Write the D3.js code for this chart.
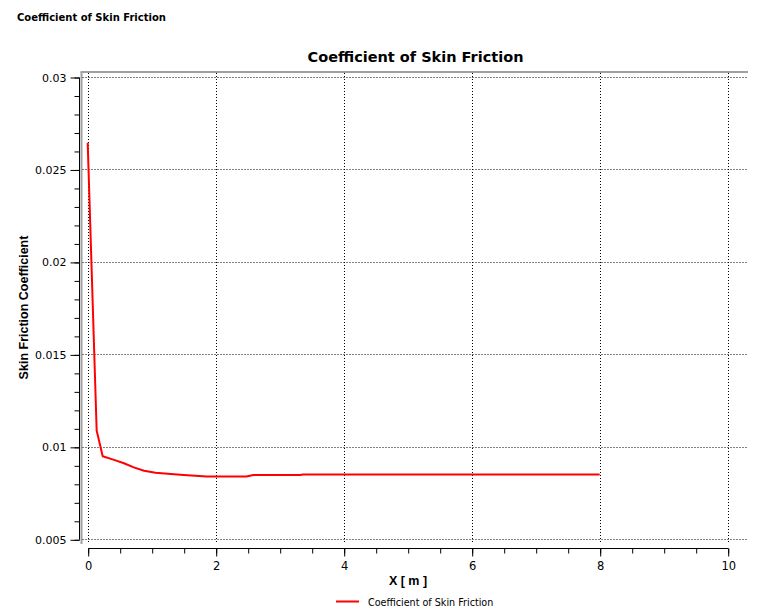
<!DOCTYPE html>
<html>
<head>
<meta charset="utf-8">
<script src="https://cdn.jsdelivr.net/npm/d3@7"></script>
<style>
  html, body { margin: 0; padding: 0; background: #fff; }
  svg { display: block; }
</style>
</head>
<body>
<svg id="chart" width="760" height="616"></svg>
<script>
// ---- data ----
const xValues = [0, 0.14, 0.234, 0.40, 0.567, 0.72, 0.88, 1.06, 1.30, 1.50, 1.86, 2.48, 2.59, 3.33, 3.36, 8];
const cfValues = [0.02644, 0.01088, 0.00949, 0.00931, 0.00911, 0.00889, 0.00871, 0.00860, 0.00853, 0.00848, 0.00840, 0.00840, 0.00848, 0.00848, 0.00851, 0.00851];
const xTicks = [0, 2, 4, 6, 8, 10];
const yTicks = [0.005, 0.01, 0.015, 0.02, 0.025, 0.03];
const yTickLabels = ["0.005", "0.01", "0.015", "0.02", "0.025", "0.03"];
const seriesName = "Coefficient of Skin Friction";
const chartTitle = "Coefficient of Skin Friction";
const xLabel = "X [ m ]";
const yLabel = "Skin Friction Coefficient";

const svg = d3.select("#chart");
const font = "'DejaVu Sans', Verdana, sans-serif";

const x = d3.scaleLinear().domain([0, 10]).range([87.7, 727.7]);
const y = d3.scaleLinear().domain([0.005, 0.03]).range([539.3, 77]);

// header
svg.append("text").attr("x", 17).attr("y", 21)
  .attr("font-family", font).attr("font-size", 10).attr("font-weight", "bold")
  .attr("fill", "#000").text(chartTitle);

// title
svg.append("text").attr("x", 415.5).attr("y", 62).attr("text-anchor", "middle")
  .attr("font-family", font).attr("font-size", 14.5).attr("font-weight", "bold")
  .attr("fill", "#000").text(chartTitle);

// plot frame (gray top & left)
const plotLeft = 81.5, plotTop = 72, plotRight = 748, plotBottom = 544;
svg.append("line").attr("x1", plotLeft - 1).attr("x2", plotRight).attr("y1", plotTop).attr("y2", plotTop)
  .attr("stroke", "#a0a0a0").attr("stroke-width", 2);
svg.append("line").attr("x1", plotLeft).attr("x2", plotLeft).attr("y1", plotTop).attr("y2", plotBottom)
  .attr("stroke", "#a0a0a0").attr("stroke-width", 2);

// grid
const grid = svg.append("g").attr("stroke", "#000").attr("stroke-width", 1).attr("stroke-dasharray", "1,2");
grid.selectAll("line.v").data(xTicks).join("line").attr("class", "v")
  .attr("x1", d => Math.round(x(d)) + 0.5).attr("x2", d => Math.round(x(d)) + 0.5)
  .attr("y1", plotTop + 1).attr("y2", plotBottom - 1);
grid.selectAll("line.h").data(yTicks).join("line").attr("class", "h")
  .attr("y1", d => Math.round(y(d)) + 0.5).attr("y2", d => Math.round(y(d)) + 0.5)
  .attr("x1", plotLeft + 1).attr("x2", plotRight - 1);

// y axis
const yAxisG = svg.append("g").attr("transform", "translate(79.5,0.5)");
const yMinor = d3.range(5, 31).map(v => v / 1000);
yAxisG.append("g").call(d3.axisLeft(y).tickValues(yMinor).tickSize(5).tickFormat(""))
  .call(g => g.select(".domain").remove());
yAxisG.append("g").call(d3.axisLeft(y).tickValues(yTicks).tickSize(9).tickPadding(4)
    .tickFormat((d, i) => yTickLabels[i]))
  .call(g => g.select(".domain").attr("d", `M0,${y(0.03)}V${y(0.005)}`))
  .call(g => g.selectAll("text").attr("font-family", font).attr("font-size", 11).attr("fill", "#000"));

// x axis
const xAxisG = svg.append("g").attr("transform", "translate(0.5,548.5)");
const xMinor = d3.range(0, 20.5, 1).map(v => v / 2);
xAxisG.append("g").call(d3.axisBottom(x).tickValues(xMinor).tickSize(5).tickFormat(""))
  .call(g => g.select(".domain").remove());
xAxisG.append("g").call(d3.axisBottom(x).tickValues(xTicks).tickSize(8).tickPadding(5).tickFormat(d3.format("d")))
  .call(g => g.select(".domain").attr("d", `M${x(0)},0H${x(10)}`))
  .call(g => g.selectAll("text").attr("font-family", font).attr("font-size", 11.5).attr("fill", "#000"));

// axis labels
svg.append("text").attr("x", 408).attr("y", 585).attr("text-anchor", "middle")
  .attr("font-family", "'Liberation Sans', Arial, sans-serif").attr("font-size", 12.5).attr("font-weight", "bold")
  .attr("fill", "#000").text(xLabel);
svg.append("text").attr("transform", "translate(28,307.5) rotate(-90)").attr("text-anchor", "middle")
  .attr("font-family", "'Liberation Sans', Arial, sans-serif").attr("font-size", 12.5).attr("font-weight", "bold")
  .attr("fill", "#000").text(yLabel);

// series
const pts = xValues.map((v, i) => [v, cfValues[i]]);
svg.append("path").datum(pts)
  .attr("fill", "none").attr("stroke", "#ff0000").attr("stroke-width", 2).attr("stroke-linejoin", "round")
  .attr("d", d3.line().x(d => x(d[0])).y(d => y(d[1])));

// legend
svg.append("line").attr("x1", 336).attr("x2", 359).attr("y1", 601.5).attr("y2", 601.5)
  .attr("stroke", "#ff0000").attr("stroke-width", 2);
svg.append("text").attr("x", 368).attr("y", 605.5)
  .attr("font-family", font).attr("font-size", 9.6).attr("fill", "#000").text(seriesName);
</script>
</body>
</html>
